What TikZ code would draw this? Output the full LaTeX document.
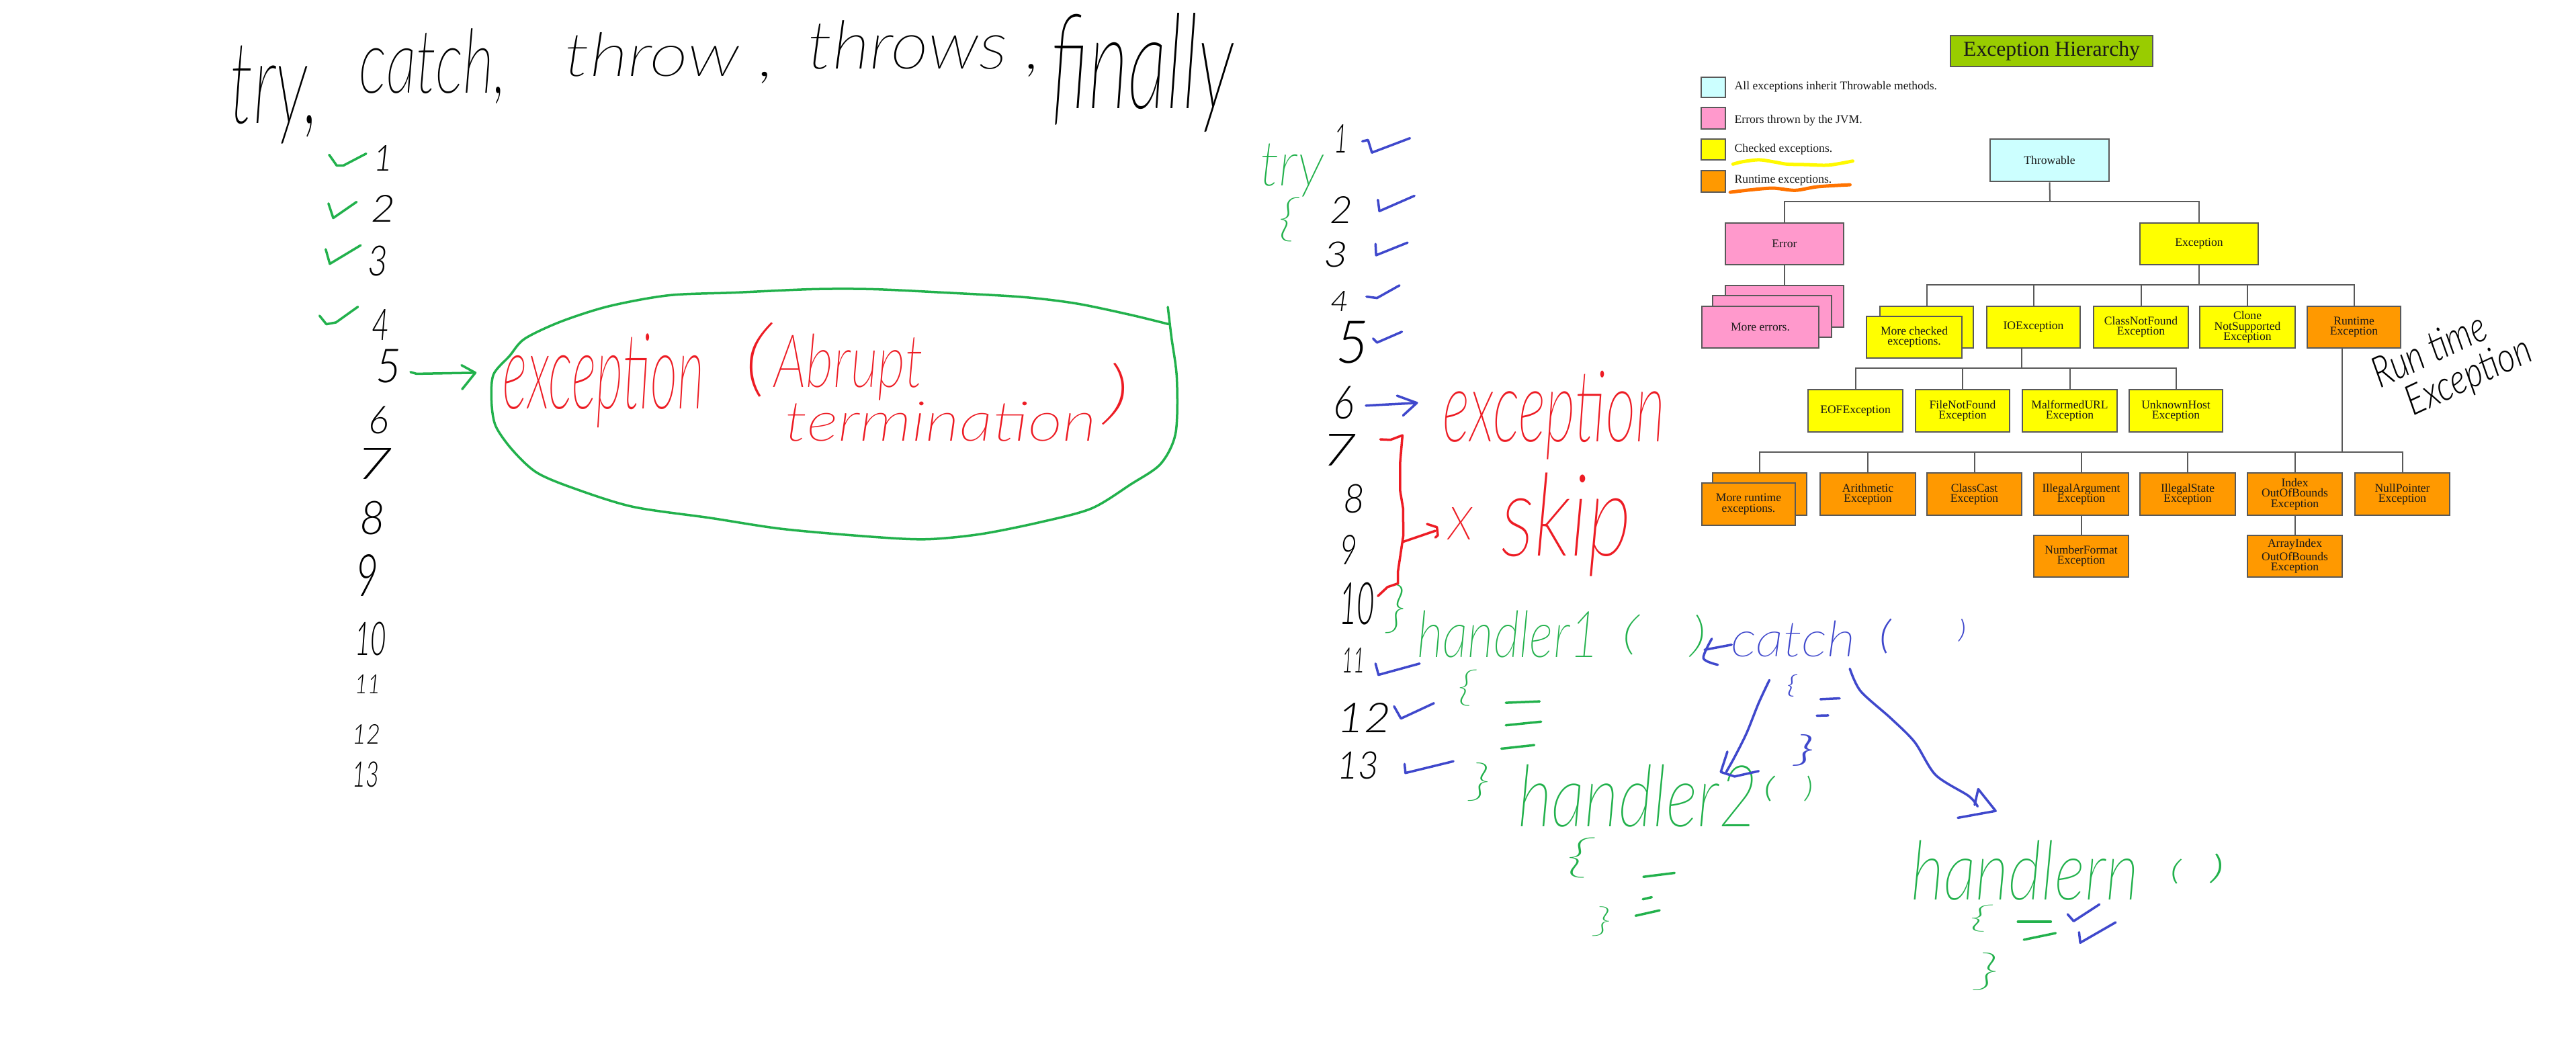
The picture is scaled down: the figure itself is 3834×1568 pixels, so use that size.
\documentclass[tikz,border=0pt]{standalone}
\usepackage{fontspec}
\usepackage{graphicx}
\setmainfont{Liberation Serif}
\newfontfamily\hand{Lato}[UprightFont=* Light Italic]
\newfontfamily\thand{Lato}[UprightFont=* Thin Italic]
\definecolor{pgreen}{HTML}{22B14C}
\definecolor{pred}{HTML}{ED1C24}
\definecolor{pblue}{HTML}{3F48CC}
\definecolor{lime}{HTML}{99CC00}
\definecolor{cyanbox}{HTML}{CCFFFF}
\definecolor{pinkbox}{HTML}{FF99CC}
\definecolor{yelbox}{HTML}{FFFF00}
\definecolor{orgbox}{HTML}{FF9900}
\tikzset{
  hbox/.style={draw=black!65,line width=0.025cm,inner sep=0pt,align=center,font=\fontsize{5}{4.4}\selectfont,text=black!90},
  cyanb/.style={hbox,fill=cyanbox},
  pinkb/.style={hbox,fill=pinkbox},
  yelb/.style={hbox,fill=yelbox},
  orgb/.style={hbox,fill=orgbox},
  limeb/.style={hbox,fill=lime,font=\fontsize{9}{11}\selectfont},
  legend/.style={anchor=west,inner sep=0pt,font=\fontsize{5}{6}\selectfont,text=black!90},
  tree/.style={draw=black!65,line width=0.02cm},
  pen/.style={line width=0.035cm,line cap=round,line join=round},
  z1/.style={x=0.00829cm,y=-0.00357cm,xshift=24.8cm,yshift=-0.2cm},
  z3/.style={x=0.0102cm,y=-0.00333cm,xshift=3cm,yshift=-0.2cm},
  z4/.style={x=0.00893cm,y=-0.0051cm,xshift=4.5cm,yshift=-4.2cm},
  z5/.style={x=0.00446cm,y=-0.0067cm,xshift=18.5cm,yshift=-1.6cm},
  z6/.style={x=0.00893cm,y=-0.00446cm,xshift=20cm,yshift=-8.5cm},
}
% box from its corners in pixels: name, style, x1, y1, x2, y2, text
\newcommand{\bx}[7]{%
  \pgfmathsetmacro{\bw}{(#5-#3)*0.01}\pgfmathsetmacro{\bh}{(#6-#4)*0.01}%
  \node[#2,minimum width=\bw cm,minimum height=\bh cm] (#1) at ({(#3+#5)/2},{(#4+#6)/2}) {#7};}
% handwritten text fitted to a pixel box: [options], name, colour, x1, y1, x2, y2, text
\newcommand{\hw}[8][]{%
  \pgfmathsetmacro{\bw}{(#6-#4)*0.01}\pgfmathsetmacro{\bh}{(#7-#5)*0.01}%
  \node[inner sep=0pt,text=#3,#1] (#2) at ({(#4+#6)/2},{(#5+#7)/2}) {\resizebox*{\bw cm}{\bh cm}{\hand #8}};}
\begin{document}
\begin{tikzpicture}[x=0.01cm,y=-0.01cm]
\useasboundingbox[fill=white] (0,0) rectangle (3834,1568);

% ---- printed hierarchy ----
\bx{title}{limeb}{2903}{53}{3204}{99}{Exception Hierarchy}
\bx{lg1}{cyanb}{2532}{115}{2568}{145}{}
\bx{lg2}{pinkb}{2532}{160}{2568}{192}{}
\bx{lg3}{yelb}{2532}{207}{2568}{238}{}
\bx{lg4}{orgb}{2532}{254}{2568}{286}{}
\node[legend] (lt1) at (2581,129) {All exceptions inherit Throwable methods.};
\node[legend] (lt2) at (2581,179) {Errors thrown by the JVM.};
\node[legend] (lt3) at (2581,222) {Checked exceptions.};
\node[legend] (lt4) at (2581,269) {Runtime exceptions.};

\bx{thr}{cyanb}{2962}{207}{3139}{270}{Throwable}
\bx{err}{pinkb}{2568}{332}{2744}{394}{Error}
\bx{exc}{yelb}{3185}{332}{3361}{394}{Exception}
\bx{me3}{pinkb}{2568}{425}{2744}{487}{}
\bx{me2}{pinkb}{2549}{440}{2726}{502}{}
\bx{me1}{pinkb}{2533}{456}{2707}{518}{More errors.}

\bx{mc2}{yelb}{2798}{456}{2937}{518}{}
\bx{mc1}{yelb}{2778}{471}{2920}{533}{More checked\\exceptions.}
\bx{ioe}{yelb}{2957}{456}{3096}{518}{IOException}
\bx{cnf}{yelb}{3116}{456}{3257}{518}{ClassNotFound\\Exception}
\bx{cns}{yelb}{3274}{456}{3416}{518}{Clone\\NotSupported\\Exception}
\bx{rte}{orgb}{3434}{456}{3573}{518}{Runtime\\Exception}

\bx{eof}{yelb}{2691}{580}{2832}{643}{EOFException}
\bx{fnf}{yelb}{2851}{580}{2991}{643}{FileNotFound\\Exception}
\bx{mal}{yelb}{3010}{580}{3151}{643}{MalformedURL\\Exception}
\bx{unk}{yelb}{3169}{580}{3308}{643}{UnknownHost\\Exception}

\bx{mr2}{orgb}{2549}{704}{2689}{767}{}
\bx{mr1}{orgb}{2533}{719}{2672}{782}{More runtime\\exceptions.}
\bx{ari}{orgb}{2709}{704}{2851}{767}{Arithmetic\\Exception}
\bx{cce}{orgb}{2868}{704}{3009}{767}{ClassCast\\Exception}
\bx{iae}{orgb}{3027}{704}{3168}{767}{IllegalArgument\\Exception}
\bx{ise}{orgb}{3185}{704}{3327}{767}{IllegalState\\Exception}
\bx{ioo}{orgb}{3345}{704}{3486}{767}{Index\\OutOfBounds\\Exception}
\bx{npe}{orgb}{3505}{704}{3646}{767}{NullPointer\\Exception}
\bx{nfe}{orgb}{3027}{797}{3168}{859}{NumberFormat\\Exception}
\bx{aio}{orgb}{3345}{797}{3486}{859}{ArrayIndex\\OutOfBounds\\Exception}

\coordinate (b1) at (3051,300);
\draw[tree] (thr.south) -- (b1);
\draw[tree] (err.north) |- (b1);
\draw[tree] (exc.north) |- (b1);
\draw[tree] (err.south) -- (me3.north);
\coordinate (b2) at (3273,424);
\draw[tree] (exc.south) -- (b2);
\draw[tree] (mc2.north) |- (b2);
\draw[tree] (ioe.north) |- (b2);
\draw[tree] (cnf.north) |- (b2);
\draw[tree] (cns.north) |- (b2);
\draw[tree] (rte.north) |- (b2);
\coordinate (b3t) at (3009,518);
\coordinate (b3) at (3009,548);
\draw[tree] (b3t) -- (b3);
\draw[tree] (eof.north) |- (b3);
\draw[tree] (fnf.north) |- (b3);
\draw[tree] (mal.north) |- (b3);
\draw[tree] (unk.north) |- (b3);
\coordinate (b4t) at (3486,518);
\coordinate (b4) at (3486,673);
\draw[tree] (b4t) -- (b4);
\draw[tree] (mr2.north) |- (b4);
\draw[tree] (ari.north) |- (b4);
\draw[tree] (cce.north) |- (b4);
\draw[tree] (iae.north) |- (b4);
\draw[tree] (ise.north) |- (b4);
\draw[tree] (ioo.north) |- (b4);
\draw[tree] (npe.north) |- (b4);
\draw[tree] (iae.south) -- (nfe.north);
\draw[tree] (ioo.south) -- (aio.north);

\begin{scope}[z1]
\draw[pen,yelbox!95!orange,line width=0.05cm] plot[smooth] coordinates {(118,628)(135,618)(165,610)(195,620)(215,628)(250,630)(290,632)(333,615)};
\draw[pen,orange!90!red,line width=0.05cm] plot[smooth] coordinates {(113,745)(150,735)(190,728)(230,737)(270,722)(328,714)};
\end{scope}

% ---- handwritten headline ----
\hw{tw}{black}{343}{68}{475}{214}{\thand try,}
\hw{ca}{black}{535}{43}{754}{155}{\thand catch,}
\hw{th}{black}{841}{48}{1153}{124}{\thand throw ,}
\hw{ts}{black}{1203}{31}{1550}{115}{\thand throws ,}
\hw{fi}{black}{1565}{20}{1836}{197}{\thand finally}

% ---- left column ----
\hw{la}{black}{556}{216}{584}{254}{1}
\hw{lb}{black}{552}{290}{588}{330}{2}
\hw{lc}{black}{547}{366}{577}{411}{3}
\hw{ld}{black}{553}{460}{579}{506}{4}
\hw{le}{black}{559}{520}{597}{570}{5}
\hw{lf}{black}{548}{605}{578}{646}{6}
\hw{lg}{black}{530}{667}{584}{713}{7}
\hw{lh}{black}{535}{746}{573}{796}{8}
\hw{li}{black}{529}{825}{563}{887}{9}
\hw{lj}{black}{528}{926}{575}{976}{10}
\hw{lk}{black}{528}{1004}{566}{1032}{11}
\hw{ll}{black}{524}{1078}{566}{1107}{12}
\hw{lm}{black}{524}{1134}{564}{1172}{13}

\begin{scope}[z3,pgreen,pen]
\draw plot coordinates {(186,632)(197,680)(207,680)(240,627)};
\draw plot coordinates {(185,850)(192,915)(226,843)};
\draw plot coordinates {(181,1055)(187,1120)(232,1037)};
\draw plot coordinates {(172,1352)(182,1390)(196,1382)(228,1312)};
\end{scope}

\begin{scope}[z4,pgreen,pen]
\draw plot[smooth] coordinates {(1443,122)(1380,95)(1290,62)(1200,43)(1070,30)(950,20)(850,20)(720,30)(610,38)(510,70)(430,115)(370,165)(345,215)(318,270)(315,350)(322,420)(350,490)(390,555)(450,600)(550,655)(680,688)(800,720)(950,743)(1040,750)(1130,735)(1230,700)(1315,660)(1380,590)(1430,530)(1455,440)(1457,280)(1448,160)(1442,72)};
\draw plot coordinates {(180,262)(190,267)(288,264)};
\draw plot coordinates {(265,242)(288,264)(266,312)};
\end{scope}

\hw{ex}{pred}{749}{497}{1048}{637}{\thand exception}
\hw{op}{pred}{1106}{480}{1147}{591}{\thand (}
\hw{ab}{pred}{1152}{497}{1374}{596}{\thand Abrupt}
\hw{te}{pred}{1169}{598}{1632}{657}{\thand termination}
\hw{cp}{pred}{1642}{540}{1682}{632}{\thand )}

% ---- middle column ----
\hw{ma}{black}{1985}{185}{2006}{227}{1}
\hw{mb}{black}{1979}{292}{2013}{332}{2}
\hw{mc}{black}{1970}{360}{2006}{398}{3}
\hw{md}{black}{1980}{433}{2007}{463}{4}
\hw{me}{black}{1988}{478}{2037}{541}{5}
\hw{mf}{black}{1984}{575}{2015}{624}{6}
\hw{mg}{black}{1967}{646}{2019}{693}{7}
\hw{mh}{black}{1999}{721}{2031}{764}{8}
\hw{mi}{black}{1994}{796}{2020}{840}{9}
\hw{mj}{black}{1993}{867}{2046}{930}{10}
\hw{mk}{black}{1997}{964}{2031}{1001}{11}
\hw{ml}{black}{1990}{1046}{2070}{1090}{12}
\hw{mm}{black}{1990}{1119}{2052}{1160}{13}

\hw{tr}{pgreen}{1875}{214}{1970}{293}{\thand try}
\hw{tb}{pgreen}{1901}{294}{1932}{360}{\thand\{}
\hw{tc}{pgreen}{2063}{870}{2093}{943}{\thand\}}

\hw{xr}{pred}{2147}{552}{2478}{684}{\thand exception}
\hw{xm}{pred}{2155}{755}{2193}{803}{\thand x}
\hw{sk}{pred}{2234}{704}{2428}{858}{\thand skip}

\begin{scope}[z5,pen]
\begin{scope}[pblue]
\draw plot coordinates {(396,75)(415,72)(428,100)(555,68)};
\draw plot coordinates {(448,205)(453,230)(570,196)};
\draw plot coordinates {(440,303)(442,328)(547,300)};
\draw plot coordinates {(410,420)(445,423)(520,395)};
\draw plot coordinates {(432,513)(445,522)(528,498)};
\draw plot coordinates {(408,662)(578,656)};
\draw plot coordinates {(512,640)(578,656)(532,684)};
\draw plot coordinates {(440,1235)(450,1260)(587,1235)};
\draw plot coordinates {(502,1330)(525,1357)(635,1323)};
\draw plot coordinates {(537,1458)(540,1478)(700,1452)};
\end{scope}
\begin{scope}[pred]
\draw plot coordinates {(456,737)(490,738)(530,728)(522,790)(522,850)(532,890)(533,950)(515,1030)(515,1057)(480,1065)(448,1085)};
\draw plot coordinates {(530,965)(640,940)};
\draw plot coordinates {(612,925)(645,932)(648,950)(640,955)};
\end{scope}
\begin{scope}[pgreen]
\draw plot coordinates {(875,1322)(988,1319)};
\draw plot coordinates {(875,1372)(993,1364)};
\draw plot coordinates {(860,1424)(970,1416)};
\end{scope}
\end{scope}

% ---- handlers ----
\hw{ha}{pgreen}{2109}{909}{2380}{979}{\thand handler1}
\hw{hao}{pgreen}{2413}{915}{2439}{975}{\thand (}
\hw{hac}{pgreen}{2515}{915}{2540}{978}{\thand )}
\hw{hab}{pgreen}{2168}{997}{2196}{1051}{\thand\{}
\hw{hae}{pgreen}{2186}{1136}{2219}{1193}{\thand\}}
\hw{cat}{pblue}{2576}{924}{2762}{978}{\thand catch}
\hw{cato}{pblue}{2797}{921}{2814}{973}{(}
\hw{catc}{pblue}{2915}{921}{2926}{955}{)}
\hw{catb}{pblue}{2659}{1004}{2674}{1037}{\{}
\hw{cate}{pblue}{2670}{1093}{2701}{1140}{\}}
\hw{hb}{pgreen}{2259}{1138}{2616}{1231}{\thand handler2}
\hw{hbo}{pgreen}{2625}{1155}{2641}{1193}{(}
\hw{hbc}{pgreen}{2686}{1155}{2698}{1193}{)}
\hw{hbb}{pgreen}{2329}{1247}{2371}{1307}{\thand\{}
\hw{hbe}{pgreen}{2371}{1350}{2399}{1394}{\thand\}}
\hw{hn}{pgreen}{2844}{1251}{3183}{1340}{\thand handlern}
\hw{hno}{pgreen}{3230}{1279}{3246}{1316}{(}
\hw{hnc}{pgreen}{3290}{1271}{3310}{1315}{)}
\hw{hnb}{pgreen}{2929}{1347}{2964}{1387}{\thand\{}
\hw{hne}{pgreen}{2938}{1418}{2976}{1474}{\thand\}}

\begin{scope}[z6,pen]
\begin{scope}[pgreen]
\draw plot coordinates {(498,1020)(550,1007)};
\draw plot coordinates {(497,1095)(512,1088)};
\draw plot coordinates {(485,1150)(525,1132)};
\draw plot coordinates {(1122,1170)(1177,1170)};
\draw plot coordinates {(1132,1230)(1185,1208)};
\end{scope}
\begin{scope}[pblue]
\draw plot coordinates {(1205,1145)(1215,1168)(1258,1112)};
\draw plot coordinates {(1224,1205)(1226,1240)(1285,1172)};
\draw plot coordinates {(793,427)(825,424)};
\draw plot coordinates {(787,482)(806,481)};
\draw plot[smooth] coordinates {(708,363)(690,440)(670,540)(650,620)(636,670)};
\draw plot coordinates {(638,602)(627,670)(650,685)(690,667)};
\draw plot[smooth] coordinates {(842,325)(860,400)(910,490)(950,570)(985,680)(1040,750)(1055,785)};
\draw plot coordinates {(1050,780)(1056,727)(1085,800)(1022,823)};
\draw plot coordinates {(600,262)(645,245)};
\draw plot[smooth] coordinates {(612,225)(598,290)(622,312)};
\end{scope}
\end{scope}

% ---- margin note ----
\hw[rotate=25]{rn}{black}{3525}{497}{3705}{543}{Run time}
\hw[rotate=25]{rx}{black}{3575}{535}{3775}{590}{Exception}
\end{tikzpicture}
\end{document}
